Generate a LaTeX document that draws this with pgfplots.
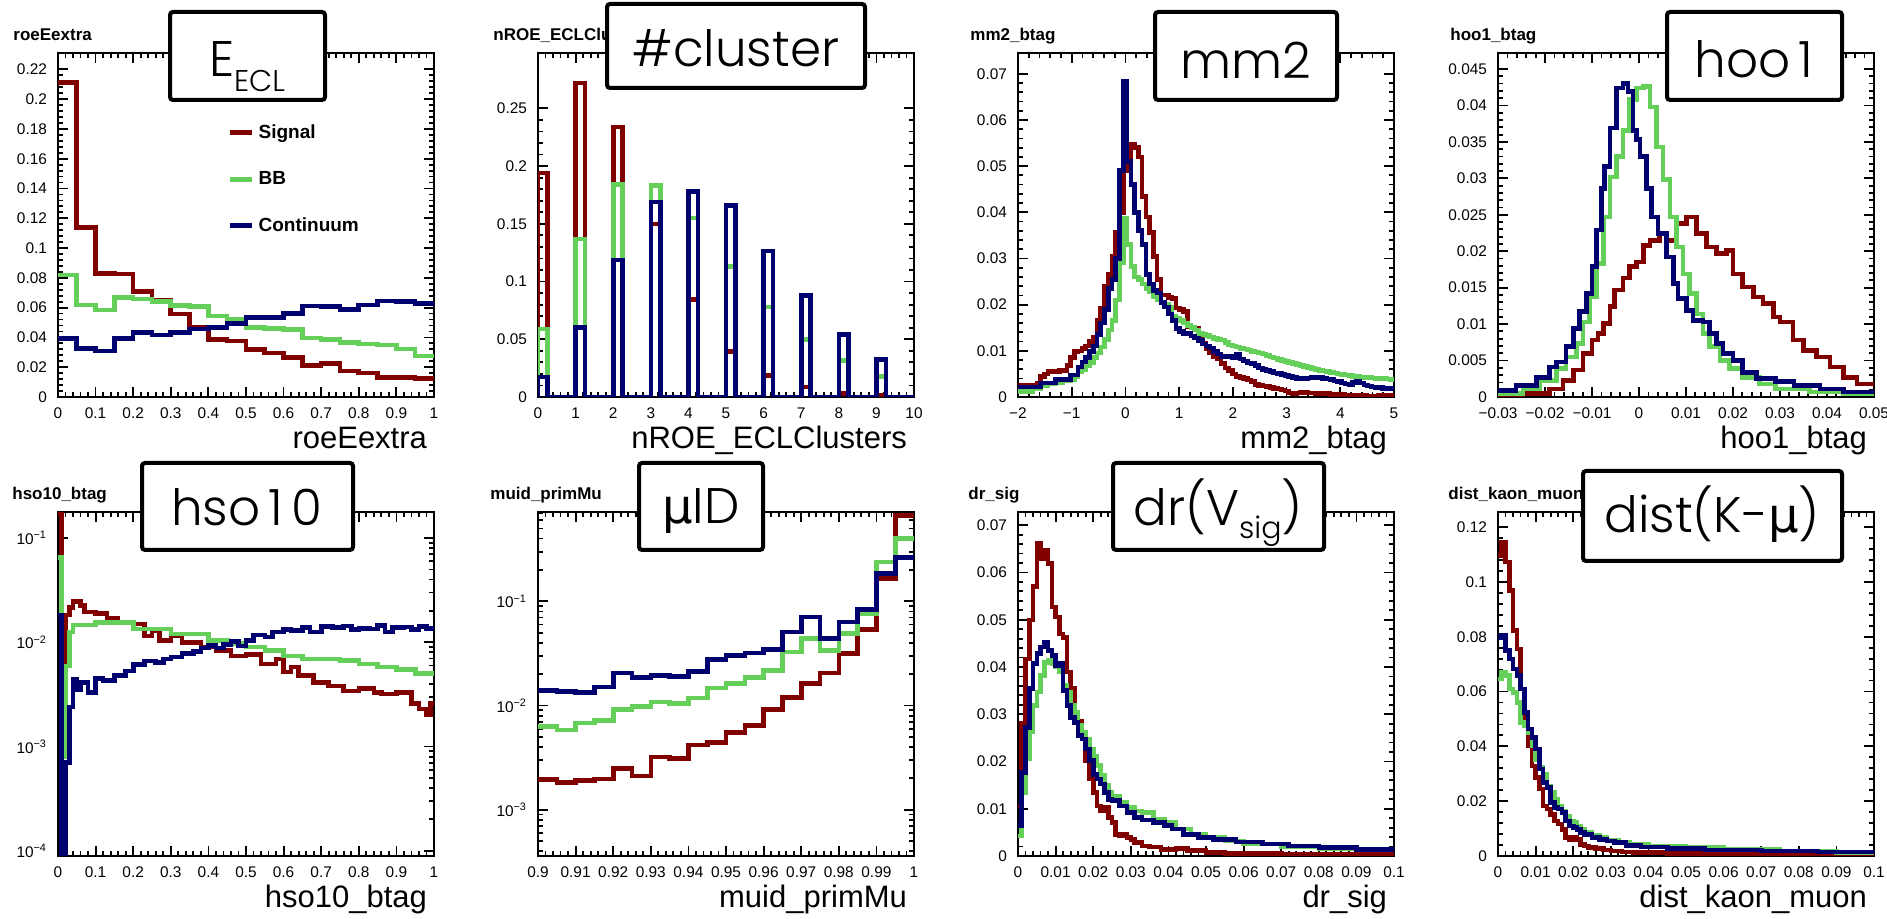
\documentclass[border=0pt]{standalone}
\usepackage{pgfplots}
\pgfplotsset{compat=1.18}
\usepackage{fontspec}
\setmainfont{Liberation Sans}
\newfontfamily\boxfont{Poppins Light}
\newfontfamily\dejavu{DejaVu Sans}
\definecolor{sigred}{RGB}{128,0,0}
\definecolor{bbgreen}{RGB}{100,208,90}
\definecolor{contblue}{RGB}{0,0,110}
\pgfplotsset{
 rootaxis/.style={width=188pt,height=172pt,scale only axis,anchor=south west,
  axis line style={line width=1.4pt},
  tick align=inside, tick pos=both,
  major tick length=5pt, minor tick length=2.5pt,
  every tick/.append style={line width=0.9pt,black},
  tick label style={font=\fontsize{7.7}{9}\selectfont},
  xticklabel style={yshift=-2pt}, yticklabel style={xshift=-2pt},
  scaled ticks=false, minor x tick num=4,
  every axis x label/.style={at={(rel axis cs:1,0)}, anchor=base east, yshift=-26pt, font=\fontsize{15.5}{18}\selectfont}},
 linminor/.style={minor y tick num=4},
 sig/.style={sigred, const plot mark left, no marks, line width=2.3pt},
 bb/.style={bbgreen, const plot mark left, no marks, line width=2.3pt},
 cont/.style={contblue, const plot mark left, no marks, line width=2.3pt}
}
\tikzset{
 titlef/.style={font=\bfseries\fontsize{8.5}{10}\selectfont, anchor=base west, inner sep=0pt},
 boxst/.style={line width=2pt, fill=white, rounded corners=1.5pt},
 boxtext/.style={font=\boxfont\fontsize{25}{27}\selectfont, anchor=base, inner sep=0pt}
}
\begin{document}
\begin{tikzpicture}
\path[use as bounding box] (0,0) rectangle (943.5pt,459.5pt);
% ---------------- Panel 1 roeEextra
\begin{axis}[rootaxis, linminor, at={(29pt,261pt)}, xmin=0, xmax=1, ymin=0, ymax=0.231,
 xtick={0,0.1,0.2,0.3,0.4,0.5,0.6,0.7,0.8,0.9,1}, xticklabels={0,0.1,0.2,0.3,0.4,0.5,0.6,0.7,0.8,0.9,1},
 ytick={0,0.02,0.04,0.06,0.08,0.1,0.12,0.14,0.16,0.18,0.2,0.22}, yticklabels={0,0.02,0.04,0.06,0.08,0.1,0.12,0.14,0.16,0.18,0.2,0.22},
 xlabel={roeEextra},
 legend cell align=left,
 legend style={draw=none, fill=none, at={(0.45,0.805)}, anchor=north west, font=\bfseries\fontsize{9.5}{11}\selectfont, row sep=11pt, inner sep=0pt},
 legend image code/.code={\draw[#1, line width=2.5pt] (0pt,0pt) -- (11pt,0pt);}]
\addplot[sig] coordinates {(0,0.211)(0.05,0.1138)(0.1,0.083)(0.15,0.0826)(0.2,0.0707)(0.25,0.065)(0.3,0.0557)(0.35,0.0471)(0.4,0.0386)(0.45,0.0377)(0.5,0.0319)(0.55,0.0296)(0.6,0.0265)(0.65,0.0213)(0.7,0.0224)(0.75,0.0175)(0.8,0.0162)(0.85,0.013)(0.9,0.013)(0.95,0.0123)(1,0.0123)};
\addlegendentry{Signal}
\addplot[bb] coordinates {(0,0.082)(0.05,0.0617)(0.1,0.0584)(0.15,0.0669)(0.2,0.0658)(0.25,0.064)(0.3,0.0615)(0.35,0.0606)(0.4,0.0543)(0.45,0.0521)(0.5,0.0467)(0.55,0.0458)(0.6,0.0453)(0.65,0.0395)(0.7,0.0386)(0.75,0.0366)(0.8,0.0355)(0.85,0.0348)(0.9,0.0321)(0.95,0.0276)(1,0.0276)};
\addlegendentry{BB}
\addplot[cont] coordinates {(0,0.0393)(0.05,0.0325)(0.1,0.031)(0.15,0.0393)(0.2,0.0433)(0.25,0.0415)(0.3,0.0433)(0.35,0.0456)(0.4,0.0465)(0.45,0.0494)(0.5,0.0532)(0.55,0.0534)(0.6,0.0561)(0.65,0.061)(0.7,0.0606)(0.75,0.0588)(0.8,0.0617)(0.85,0.0644)(0.9,0.064)(0.95,0.0628)(1,0.0628)};
\addlegendentry{Continuum}
\end{axis}
% ---------------- Panel 2 nROE_ECLClusters
\begin{axis}[rootaxis, linminor, at={(269pt,261pt)}, xmin=0, xmax=10, ymin=0, ymax=0.298,
 xtick={0,1,2,3,4,5,6,7,8,9,10}, xticklabels={0,1,2,3,4,5,6,7,8,9,10},
 ytick={0,0.05,0.1,0.15,0.2,0.25}, yticklabels={0,0.05,0.1,0.15,0.2,0.25},
 xlabel={nROE\_ECLClusters}]
\addplot[sig] coordinates {(0,0)(0,0.194)(0.25,0)(1,0.272)(1.25,0)(2,0.234)(2.25,0)(3,0.15)(3.25,0)(4,0.0844)(4.25,0)(5,0.0396)(5.25,0)(6,0.0188)(6.25,0)(7,0.0087)(7.25,0)(8,0.003)(8.25,0)(9,0.0014)(9.25,0)(10,0)};
\addplot[bb] coordinates {(0,0)(0,0.059)(0.25,0)(1,0.137)(1.25,0)(2,0.184)(2.25,0)(3,0.183)(3.25,0)(4,0.155)(4.25,0)(5,0.113)(5.25,0)(6,0.078)(6.25,0)(7,0.0497)(7.25,0)(8,0.0318)(8.25,0)(9,0.018)(9.25,0)(10,0)};
\addplot[cont] coordinates {(0,0)(0,0.0173)(0.25,0)(1,0.060)(1.25,0)(2,0.1185)(2.25,0)(3,0.169)(3.25,0)(4,0.178)(4.25,0)(5,0.166)(5.25,0)(6,0.1266)(6.25,0)(7,0.0879)(7.25,0)(8,0.054)(8.25,0)(9,0.0324)(9.25,0)(10,0)};
\end{axis}
% ---------------- Panel 3 mm2_btag
\begin{axis}[rootaxis, linminor, at={(509pt,261pt)}, xmin=-2, xmax=5, ymin=0, ymax=0.0745,
 xtick={-2,-1,0,1,2,3,4,5}, xticklabels={−2,−1,0,1,2,3,4,5},
 ytick={0,0.01,0.02,0.03,0.04,0.05,0.06,0.07}, yticklabels={0,0.01,0.02,0.03,0.04,0.05,0.06,0.07},
 xlabel={mm2\_btag}]
\addplot[sig] coordinates {(-2,0.0025)(-1.65,0.003)(-1.58,0.0045)(-1.51,0.005)(-1.44,0.0055)(-1.37,0.0055)(-1.3,0.0055)(-1.23,0.0057)(-1.16,0.0058)(-1.09,0.0068)(-1.02,0.0085)(-0.95,0.0098)(-0.88,0.010)(-0.81,0.0105)(-0.74,0.011)(-0.67,0.012)(-0.6,0.013)(-0.53,0.0165)(-0.46,0.0193)(-0.39,0.0239)(-0.32,0.0265)(-0.25,0.0304)(-0.18,0.0356)(-0.11,0.040)(-0.04,0.049)(0.03,0.0515)(0.1,0.0547)(0.17,0.054)(0.24,0.052)(0.31,0.0434)(0.38,0.039)(0.45,0.0356)(0.52,0.0304)(0.59,0.0254)(0.66,0.0221)(0.73,0.0221)(0.8,0.0215)(0.87,0.0213)(0.94,0.0193)(1.01,0.019)(1.08,0.0185)(1.15,0.0152)(1.22,0.015)(1.29,0.0148)(1.36,0.0125)(1.43,0.0117)(1.5,0.0105)(1.57,0.0095)(1.64,0.0088)(1.71,0.0082)(1.78,0.0072)(1.85,0.0063)(1.92,0.0058)(1.99,0.005)(2.06,0.0045)(2.13,0.0042)(2.2,0.004)(2.27,0.0037)(2.34,0.0033)(2.41,0.0027)(2.48,0.0025)(2.55,0.0024)(2.62,0.0023)(2.69,0.002)(2.76,0.0018)(2.83,0.0017)(2.9,0.0015)(2.97,0.0013)(3.04,0.0009)(3.11,0.0008)(3.18,0.0009)(3.25,0.0011)(3.32,0.001)(3.39,0.0009)(3.53,0.0008)(3.67,0.0007)(3.81,0.0006)(4.09,0.0004)(4.3,0.0003)(4.5,0.0002)(4.7,0.0003)(5,0.0003)};
\addplot[bb] coordinates {(-2,0.0012)(-1.72,0.0018)(-1.58,0.0025)(-1.44,0.0028)(-1.3,0.003)(-1.16,0.0035)(-1.02,0.0038)(-0.95,0.0045)(-0.88,0.0055)(-0.81,0.006)(-0.74,0.0068)(-0.67,0.0075)(-0.6,0.0085)(-0.53,0.0095)(-0.46,0.0108)(-0.39,0.0125)(-0.32,0.0145)(-0.25,0.0165)(-0.18,0.021)(-0.11,0.029)(-0.04,0.0387)(0.03,0.033)(0.1,0.0282)(0.17,0.026)(0.24,0.0255)(0.31,0.0245)(0.38,0.0235)(0.45,0.0228)(0.52,0.0218)(0.59,0.021)(0.66,0.0205)(0.73,0.020)(0.8,0.0195)(0.87,0.0175)(0.94,0.017)(1.01,0.0165)(1.08,0.016)(1.15,0.0155)(1.22,0.015)(1.29,0.0145)(1.36,0.0138)(1.43,0.0135)(1.5,0.0133)(1.57,0.013)(1.64,0.0127)(1.71,0.0125)(1.78,0.0123)(1.85,0.0118)(1.92,0.0113)(1.99,0.011)(2.06,0.0108)(2.13,0.0105)(2.2,0.0104)(2.27,0.0102)(2.34,0.0099)(2.41,0.0097)(2.48,0.0095)(2.55,0.0093)(2.62,0.009)(2.69,0.0087)(2.76,0.0084)(2.83,0.0081)(2.9,0.0079)(2.97,0.0077)(3.04,0.0075)(3.11,0.0072)(3.18,0.007)(3.25,0.0068)(3.32,0.0066)(3.39,0.0064)(3.46,0.0062)(3.53,0.006)(3.6,0.0058)(3.67,0.0056)(3.74,0.0055)(3.81,0.0053)(3.88,0.0052)(3.95,0.005)(4.02,0.0049)(4.09,0.0048)(4.16,0.0046)(4.23,0.0045)(4.3,0.0044)(4.37,0.0043)(4.44,0.0042)(4.51,0.0042)(4.58,0.0041)(4.65,0.004)(4.72,0.0041)(4.79,0.004)(4.86,0.0039)(4.93,0.0038)(5,0.0038)};
\addplot[cont] coordinates {(-2,0.0022)(-1.58,0.003)(-1.3,0.0038)(-1.02,0.0048)(-0.88,0.0065)(-0.81,0.0076)(-0.74,0.0085)(-0.67,0.0098)(-0.6,0.011)(-0.53,0.0135)(-0.46,0.016)(-0.39,0.019)(-0.32,0.0235)(-0.25,0.0255)(-0.18,0.03)(-0.11,0.049)(-0.04,0.0683)(0.03,0.051)(0.1,0.046)(0.17,0.040)(0.24,0.036)(0.31,0.033)(0.38,0.0265)(0.45,0.0245)(0.52,0.023)(0.59,0.0225)(0.66,0.0205)(0.73,0.0195)(0.8,0.018)(0.87,0.0165)(0.94,0.0148)(1.01,0.0142)(1.08,0.0138)(1.15,0.0138)(1.22,0.0132)(1.29,0.0128)(1.36,0.0122)(1.43,0.0115)(1.5,0.011)(1.57,0.0106)(1.64,0.0098)(1.71,0.0093)(1.78,0.0088)(1.85,0.0087)(1.92,0.0088)(1.99,0.0085)(2.06,0.0092)(2.13,0.0082)(2.2,0.0078)(2.27,0.0074)(2.34,0.0072)(2.41,0.0068)(2.48,0.0063)(2.55,0.006)(2.62,0.0057)(2.69,0.0055)(2.76,0.0052)(2.83,0.0051)(2.9,0.0049)(2.97,0.0047)(3.04,0.0045)(3.11,0.0042)(3.18,0.004)(3.25,0.0039)(3.32,0.004)(3.39,0.0041)(3.46,0.0042)(3.53,0.0043)(3.6,0.0042)(3.67,0.004)(3.74,0.0039)(3.81,0.0038)(3.88,0.0035)(3.95,0.0033)(4.02,0.003)(4.09,0.0028)(4.16,0.0027)(4.23,0.0031)(4.3,0.0033)(4.37,0.003)(4.44,0.0026)(4.51,0.0024)(4.58,0.0022)(4.65,0.0021)(4.72,0.002)(4.79,0.0019)(4.86,0.0018)(4.93,0.0018)(5,0.0018)};
\end{axis}
% ---------------- Panel 4 hoo1_btag
\begin{axis}[rootaxis, linminor, at={(749pt,261pt)}, xmin=-0.03, xmax=0.05, ymin=0, ymax=0.0472,
 xtick={-0.03,-0.02,-0.01,0,0.01,0.02,0.03,0.04,0.05}, xticklabels={−0.03,−0.02,−0.01,0,0.01,0.02,0.03,0.04,0.05},
 ytick={0,0.005,0.01,0.015,0.02,0.025,0.03,0.035,0.04,0.045}, yticklabels={0,0.005,0.01,0.015,0.02,0.025,0.03,0.035,0.04,0.045},
 xlabel={hoo1\_btag}]
\addplot[sig] coordinates {(-0.03,0.0003)(-0.0247,0.0005)(-0.019,0.0011)(-0.0162,0.0023)(-0.014,0.0037)(-0.0119,0.006)(-0.01,0.0078)(-0.0087,0.0087)(-0.0076,0.0101)(-0.0062,0.0124)(-0.0052,0.0147)(-0.0034,0.0163)(-0.002,0.0179)(-0.0005,0.0185)(0.0009,0.0208)(0.0023,0.0215)(0.0044,0.0224)(0.0058,0.0215)(0.008,0.0238)(0.0101,0.0247)(0.0122,0.0224)(0.0144,0.0206)(0.0165,0.0197)(0.0186,0.0201)(0.02,0.0169)(0.022,0.0151)(0.0243,0.0137)(0.0264,0.0128)(0.0286,0.011)(0.03,0.0103)(0.0328,0.0078)(0.035,0.0064)(0.0378,0.0055)(0.0406,0.0041)(0.0435,0.0027)(0.0464,0.0018)(0.05,0.0018)};
\addplot[bb] coordinates {(-0.03,0.0005)(-0.0247,0.0011)(-0.0211,0.0023)(-0.0176,0.0039)(-0.0155,0.0055)(-0.0133,0.0073)(-0.0119,0.0103)(-0.0105,0.0137)(-0.009,0.0183)(-0.0076,0.0247)(-0.0062,0.0302)(-0.0048,0.033)(-0.0034,0.0366)(-0.002,0.0408)(-0.0005,0.0424)(0.0009,0.0426)(0.0023,0.0398)(0.0037,0.0343)(0.0051,0.0298)(0.0066,0.0247)(0.008,0.0206)(0.0094,0.0169)(0.0108,0.0142)(0.0122,0.0114)(0.0136,0.0087)(0.015,0.0069)(0.0172,0.005)(0.0193,0.0039)(0.022,0.0027)(0.0257,0.0018)(0.029,0.0011)(0.0363,0.0007)(0.0434,0.0005)(0.05,0.0005)};
\addplot[cont] coordinates {(-0.03,0.0009)(-0.0262,0.0016)(-0.0218,0.0027)(-0.019,0.0041)(-0.0176,0.0048)(-0.0155,0.0069)(-0.014,0.0094)(-0.0126,0.0117)(-0.0112,0.0142)(-0.01,0.0179)(-0.009,0.0229)(-0.008,0.0286)(-0.0073,0.0316)(-0.0062,0.0369)(-0.0048,0.0424)(-0.0034,0.043)(-0.0023,0.0419)(-0.0013,0.0366)(-0.0005,0.0353)(0.0002,0.033)(0.0016,0.0286)(0.0026,0.0247)(0.004,0.0224)(0.0058,0.0192)(0.0073,0.0156)(0.0083,0.0135)(0.0101,0.0119)(0.0115,0.0105)(0.0136,0.0103)(0.015,0.0087)(0.0165,0.0073)(0.0179,0.006)(0.02,0.005)(0.022,0.0034)(0.025,0.0025)(0.029,0.0021)(0.033,0.0016)(0.0385,0.0011)(0.0435,0.0007)(0.05,0.0007)};
\end{axis}
% ---------------- Panel 5 hso10_btag (log)
\begin{axis}[rootaxis, at={(29pt,31.5pt)}, xmin=0, xmax=1, ymode=log, ymin=8.9e-5, ymax=0.178,
 xtick={0,0.1,0.2,0.3,0.4,0.5,0.6,0.7,0.8,0.9,1}, xticklabels={0,0.1,0.2,0.3,0.4,0.5,0.6,0.7,0.8,0.9,1},
 ytick={1e-4,1e-3,1e-2,1e-1}, yticklabels={10\textsuperscript{−4},10\textsuperscript{−3},10\textsuperscript{−2},10\textsuperscript{−1}},
 minor ytick={9e-5,2e-4,3e-4,4e-4,5e-4,6e-4,7e-4,8e-4,9e-4,2e-3,3e-3,4e-3,5e-3,6e-3,7e-3,8e-3,9e-3,2e-2,3e-2,4e-2,5e-2,6e-2,7e-2,8e-2,9e-2},
 xlabel={hso10\_btag}]
\addplot[sig] coordinates {(0,0.17)(0.01,0.0038)(0.02,0.0183)(0.03,0.0215)(0.04,0.0245)(0.06,0.0225)(0.07,0.0195)(0.1,0.019)(0.13,0.017)(0.16,0.0155)(0.2,0.015)(0.23,0.0115)(0.25,0.013)(0.27,0.0104)(0.3,0.0115)(0.33,0.01)(0.38,0.009)(0.42,0.0083)(0.46,0.0074)(0.5,0.0076)(0.54,0.0062)(0.58,0.0069)(0.6,0.0052)(0.62,0.0058)(0.64,0.0048)(0.68,0.0041)(0.72,0.0038)(0.76,0.0034)(0.8,0.0036)(0.84,0.0033)(0.86,0.0032)(0.9,0.0033)(0.94,0.0026)(0.96,0.0023)(0.98,0.002)(0.99,0.0026)(1,0.0026)};
\addplot[bb] coordinates {(0,0.065)(0.01,0.0008)(0.02,0.0059)(0.03,0.0126)(0.04,0.0147)(0.1,0.0155)(0.2,0.0134)(0.3,0.012)(0.4,0.0104)(0.45,0.0097)(0.5,0.009)(0.55,0.0083)(0.6,0.0074)(0.65,0.0069)(0.75,0.0067)(0.8,0.0062)(0.85,0.0058)(0.9,0.0055)(0.95,0.005)(1,0.005)};
\addplot[cont] coordinates {(0,0.0183)(0.01,0.00001)(0.02,0.0007)(0.03,0.0024)(0.04,0.0044)(0.05,0.0035)(0.06,0.0041)(0.08,0.0033)(0.1,0.0045)(0.12,0.0043)(0.15,0.0048)(0.18,0.0053)(0.2,0.0061)(0.23,0.0066)(0.26,0.0064)(0.28,0.0069)(0.3,0.0072)(0.33,0.0078)(0.36,0.0082)(0.38,0.0088)(0.4,0.0093)(0.42,0.0088)(0.44,0.0095)(0.46,0.0102)(0.48,0.0092)(0.5,0.0104)(0.52,0.0118)(0.55,0.0112)(0.57,0.0125)(0.6,0.0132)(0.62,0.013)(0.65,0.0138)(0.67,0.0125)(0.7,0.0142)(0.73,0.0138)(0.76,0.0143)(0.78,0.0132)(0.8,0.0136)(0.83,0.0134)(0.85,0.0145)(0.87,0.0125)(0.89,0.0138)(0.92,0.014)(0.94,0.0132)(0.96,0.0142)(0.98,0.0135)(1,0.0135)};
\end{axis}
% ---------------- Panel 6 muid_primMu (log)
\begin{axis}[rootaxis, at={(269pt,31.5pt)}, xmin=0.9, xmax=1, ymode=log, ymin=3.6e-4, ymax=0.72,
 xtick={0.9,0.91,0.92,0.93,0.94,0.95,0.96,0.97,0.98,0.99,1}, xticklabels={0.9,0.91,0.92,0.93,0.94,0.95,0.96,0.97,0.98,0.99,1},
 ytick={1e-3,1e-2,1e-1}, yticklabels={10\textsuperscript{−3},10\textsuperscript{−2},10\textsuperscript{−1}},
 minor ytick={4e-4,5e-4,6e-4,7e-4,8e-4,9e-4,2e-3,3e-3,4e-3,5e-3,6e-3,7e-3,8e-3,9e-3,2e-2,3e-2,4e-2,5e-2,6e-2,7e-2,8e-2,9e-2,0.2,0.3,0.4,0.5,0.6,0.7},
 xlabel={muid\_primMu}]
\addplot[sig] coordinates {(0.900,0.00194)(0.905,0.00183)(0.910,0.0019)(0.915,0.00198)(0.920,0.0025)(0.925,0.0021)(0.930,0.0032)(0.935,0.0031)(0.940,0.0042)(0.945,0.0044)(0.950,0.0055)(0.955,0.0064)(0.960,0.0092)(0.965,0.012)(0.970,0.0162)(0.975,0.0206)(0.980,0.0314)(0.985,0.0538)(0.990,0.165)(0.995,0.67)(1,0.67)};
\addplot[bb] coordinates {(0.900,0.0063)(0.905,0.0058)(0.910,0.0068)(0.915,0.0072)(0.920,0.0092)(0.925,0.0098)(0.930,0.0108)(0.935,0.0104)(0.940,0.0118)(0.945,0.0147)(0.950,0.0162)(0.955,0.0186)(0.960,0.0216)(0.965,0.0326)(0.970,0.0438)(0.975,0.0338)(0.980,0.0489)(0.985,0.0761)(0.990,0.239)(0.995,0.4)(1,0.4)};
\addplot[cont] coordinates {(0.900,0.0139)(0.905,0.0137)(0.910,0.0134)(0.915,0.015)(0.920,0.0206)(0.925,0.0187)(0.930,0.0194)(0.935,0.0191)(0.940,0.0212)(0.945,0.0277)(0.950,0.0303)(0.955,0.0318)(0.960,0.0345)(0.965,0.0507)(0.970,0.0707)(0.975,0.0438)(0.980,0.0633)(0.985,0.0838)(0.990,0.184)(0.995,0.263)(1,0.263)};
\end{axis}
% ---------------- Panel 7 dr_sig
\begin{axis}[rootaxis, linminor, at={(509pt,31.5pt)}, xmin=0, xmax=0.1, ymin=0, ymax=0.0728,
 xtick={0,0.01,0.02,0.03,0.04,0.05,0.06,0.07,0.08,0.09,0.1}, xticklabels={0,0.01,0.02,0.03,0.04,0.05,0.06,0.07,0.08,0.09,0.1},
 ytick={0,0.01,0.02,0.03,0.04,0.05,0.06,0.07}, yticklabels={0,0.01,0.02,0.03,0.04,0.05,0.06,0.07},
 xlabel={dr\_sig}]
\addplot[sig] coordinates {(0,0.0106)(0.001,0.028)(0.002,0.0417)(0.003,0.0499)(0.004,0.057)(0.005,0.0661)(0.006,0.063)(0.007,0.0647)(0.008,0.0619)(0.009,0.0527)(0.010,0.0506)(0.011,0.047)(0.012,0.0463)(0.013,0.0389)(0.014,0.0354)(0.015,0.0293)(0.016,0.0286)(0.017,0.0248)(0.018,0.0202)(0.019,0.0163)(0.020,0.0134)(0.021,0.0106)(0.022,0.0095)(0.023,0.0103)(0.024,0.0081)(0.025,0.0071)(0.026,0.0046)(0.027,0.0042)(0.028,0.0046)(0.029,0.0039)(0.030,0.0035)(0.031,0.0028)(0.032,0.003)(0.033,0.0021)(0.035,0.0019)(0.038,0.0014)(0.042,0.0016)(0.045,0.0011)(0.05,0.0008)(0.055,0.0005)(0.07,0.0004)(0.1,0.0004)};
\addplot[bb] coordinates {(0,0.0042)(0.001,0.0134)(0.002,0.0205)(0.003,0.0262)(0.004,0.0318)(0.005,0.0347)(0.006,0.0382)(0.007,0.041)(0.008,0.0414)(0.009,0.0407)(0.010,0.040)(0.011,0.0389)(0.012,0.0361)(0.013,0.0347)(0.014,0.0318)(0.015,0.0304)(0.016,0.0276)(0.017,0.0262)(0.018,0.0248)(0.019,0.0226)(0.020,0.0212)(0.021,0.0191)(0.022,0.017)(0.023,0.0149)(0.024,0.0134)(0.025,0.0127)(0.027,0.0113)(0.029,0.0103)(0.031,0.0095)(0.033,0.0092)(0.036,0.0078)(0.039,0.0071)(0.042,0.0057)(0.046,0.0046)(0.05,0.0039)(0.055,0.0032)(0.06,0.0025)(0.07,0.002)(0.08,0.0016)(0.09,0.0013)(0.1,0.0013)};
\addplot[cont] coordinates {(0,0.0064)(0.001,0.0177)(0.002,0.0272)(0.003,0.0354)(0.004,0.0407)(0.005,0.0428)(0.006,0.0442)(0.007,0.0453)(0.008,0.0435)(0.009,0.0424)(0.010,0.0403)(0.011,0.0407)(0.012,0.035)(0.013,0.0318)(0.014,0.0293)(0.015,0.0283)(0.016,0.0255)(0.017,0.0248)(0.018,0.0226)(0.019,0.0202)(0.020,0.0173)(0.021,0.0163)(0.022,0.0152)(0.023,0.0134)(0.024,0.012)(0.025,0.0117)(0.027,0.0106)(0.029,0.0092)(0.031,0.0081)(0.033,0.0076)(0.036,0.0071)(0.039,0.0064)(0.041,0.0057)(0.044,0.0046)(0.048,0.0039)(0.052,0.0035)(0.058,0.003)(0.065,0.0025)(0.072,0.0021)(0.08,0.0018)(0.09,0.0014)(0.1,0.0014)};
\end{axis}
% ---------------- Panel 8 dist_kaon_muon
\begin{axis}[rootaxis, linminor, at={(749pt,31.5pt)}, xmin=0, xmax=0.1, ymin=0, ymax=0.1255,
 xtick={0,0.01,0.02,0.03,0.04,0.05,0.06,0.07,0.08,0.09,0.1}, xticklabels={0,0.01,0.02,0.03,0.04,0.05,0.06,0.07,0.08,0.09,0.1},
 ytick={0,0.02,0.04,0.06,0.08,0.1,0.12}, yticklabels={0,0.02,0.04,0.06,0.08,0.1,0.12},
 xlabel={dist\_kaon\_muon}]
\addplot[sig] coordinates {(0,0.1097)(0.001,0.1145)(0.002,0.1072)(0.003,0.0969)(0.004,0.0822)(0.005,0.0755)(0.006,0.0609)(0.007,0.0475)(0.008,0.0402)(0.009,0.0329)(0.010,0.0286)(0.011,0.0244)(0.012,0.0183)(0.013,0.0171)(0.014,0.0152)(0.015,0.0128)(0.016,0.0116)(0.017,0.0097)(0.018,0.0067)(0.019,0.0061)(0.020,0.0067)(0.021,0.0061)(0.022,0.0043)(0.023,0.0037)(0.024,0.003)(0.026,0.0027)(0.028,0.0022)(0.030,0.0018)(0.033,0.0015)(0.036,0.0012)(0.045,0.0009)(0.06,0.0006)(0.1,0.0006)};
\addplot[bb] coordinates {(0,0.0646)(0.001,0.067)(0.002,0.0658)(0.003,0.0609)(0.004,0.0597)(0.005,0.056)(0.006,0.0487)(0.007,0.0475)(0.008,0.0451)(0.009,0.0402)(0.010,0.0353)(0.011,0.0323)(0.012,0.0298)(0.013,0.0256)(0.014,0.0231)(0.015,0.0207)(0.016,0.0183)(0.017,0.0164)(0.018,0.0146)(0.019,0.0128)(0.020,0.0122)(0.021,0.011)(0.022,0.0097)(0.023,0.0085)(0.025,0.0076)(0.027,0.0067)(0.029,0.0058)(0.032,0.0049)(0.035,0.0043)(0.04,0.0037)(0.05,0.003)(0.06,0.0024)(0.075,0.0018)(0.09,0.0012)(0.1,0.0012)};
\addplot[cont] coordinates {(0,0.0798)(0.001,0.0804)(0.002,0.0749)(0.003,0.0719)(0.004,0.0682)(0.005,0.0658)(0.006,0.0609)(0.007,0.0524)(0.008,0.0463)(0.009,0.0433)(0.010,0.039)(0.011,0.0317)(0.012,0.0268)(0.013,0.025)(0.014,0.0195)(0.015,0.0177)(0.016,0.0171)(0.017,0.0158)(0.018,0.0128)(0.019,0.011)(0.020,0.0104)(0.021,0.0097)(0.022,0.0085)(0.023,0.0079)(0.025,0.0067)(0.027,0.0061)(0.029,0.0055)(0.031,0.0049)(0.034,0.0039)(0.038,0.0033)(0.045,0.0028)(0.055,0.0022)(0.07,0.0018)(0.085,0.0015)(0.1,0.0015)};
\end{axis}
% ---------------- small titles
\node[titlef] at (6.5pt,439pt) {roeEextra};
\node[titlef] at (246.5pt,439pt) {nROE\_ECLClusters};
\node[titlef] at (485pt,439pt) {mm2\_btag};
\node[titlef] at (725pt,439pt) {hoo1\_btag};
\node[titlef] at (6pt,209.5pt) {hso10\_btag};
\node[titlef] at (245pt,209.5pt) {muid\_primMu};
\node[titlef] at (484pt,209.5pt) {dr\_sig};
\node[titlef] at (724pt,209.5pt) {dist\_kaon\_muon};
% ---------------- boxes
\draw[boxst] (85pt,409.5pt) rectangle (162.5pt,453.5pt);
\node[boxtext] at (123.5pt,421pt) {E\raisebox{-7.5pt}{\fontsize{15}{15}\selectfont ECL}};
\draw[boxst] (303.5pt,415.5pt) rectangle (432.5pt,457.5pt);
\node[boxtext] at (368pt,426pt) {\#cluster};
\draw[boxst] (577.5pt,409.5pt) rectangle (668.5pt,453.5pt);
\node[boxtext] at (623pt,420pt) {mm2};
\draw[boxst] (833.5pt,409.5pt) rectangle (921pt,453.5pt);
\node[boxtext] at (877pt,420.5pt) {hoo\,1};
\draw[boxst] (71pt,184.5pt) rectangle (176.5pt,228pt);
\node[boxtext] at (123.5pt,196.5pt) {hso\,1\,0};
\draw[boxst] (319.5pt,184.5pt) rectangle (381.5pt,228pt);
\node[boxtext] at (350.5pt,197.5pt) {{\dejavu\fontsize{24}{26}\selectfont μ}ID};
\draw[boxst] (556.5pt,184.5pt) rectangle (662pt,228pt);
\node[boxtext] at (609pt,196.5pt) {dr(V\raisebox{-6.5pt}{\fontsize{15}{15}\selectfont sig})};
\draw[boxst] (791.5pt,179pt) rectangle (921pt,224pt);
\node[boxtext] at (856pt,193pt) {dist(K-{\dejavu\fontsize{24}{26}\selectfont μ})};
\end{tikzpicture}
\end{document}
